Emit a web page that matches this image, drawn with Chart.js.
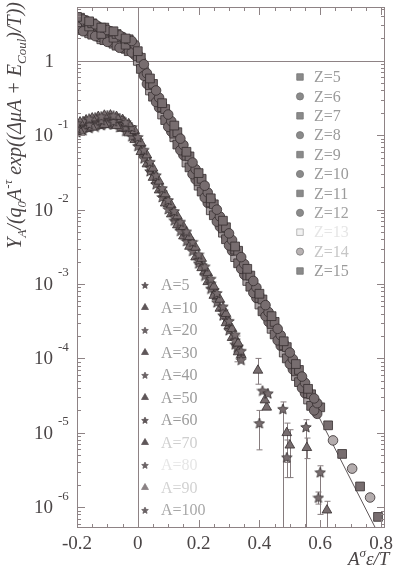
<!DOCTYPE html>
<html>
<head>
<meta charset="utf-8">
<script src="https://cdn.jsdelivr.net/npm/chart.js@4.4.0/dist/chart.umd.min.js"></script>
<style>
html, body { margin: 0; padding: 0; background: #fff; }
#wrap { width: 394px; height: 569px; }
</style>
</head>
<body>
<div id="wrap"><canvas id="chart" width="394" height="569"></canvas></div>
<script>
// ---- axis ticks ----
const xTickValues = [-0.2, 0, 0.2, 0.4, 0.6, 0.8];
const xTickLabels = ['-0.2', '0', '0.2', '0.4', '0.6', '0.8'];
const xMinorTicks = [-0.15, -0.1, -0.05, 0.05, 0.1, 0.15, 0.25, 0.3, 0.35, 0.45, 0.5, 0.55, 0.65, 0.7, 0.75];
const yTickValues = [1, 1e-1, 1e-2, 1e-3, 1e-4, 1e-5, 1e-6];
const yTickExps = ['', '-1', '-2', '-3', '-4', '-5', '-6'];

// ---- Z series (upper band) ----
const zX0 = [-0.2, -0.16, -0.12, -0.08, -0.04, 0, 0.04, 0.08, 0.12, 0.16, 0.2, 0.24, 0.28, 0.32, 0.36, 0.4, 0.44, 0.48, 0.52, 0.56];
const zX1 = [-0.19, -0.15, -0.11, -0.07, -0.03, 0.01, 0.05, 0.09, 0.13, 0.17, 0.21, 0.25, 0.29, 0.33, 0.37, 0.41, 0.45, 0.49, 0.53, 0.57];
const zX2 = [-0.18, -0.14, -0.1, -0.06, -0.02, 0.02, 0.06, 0.1, 0.14, 0.18, 0.22, 0.26, 0.3, 0.34, 0.38, 0.42, 0.46, 0.5, 0.54, 0.58];
const zX3 = [-0.17, -0.13, -0.09, -0.05, -0.01, 0.03, 0.07, 0.11, 0.15, 0.19, 0.23, 0.27, 0.31, 0.35, 0.39, 0.43, 0.47, 0.51, 0.55, 0.59];

const z5  = [3.9, 3.4, 2.8, 2.5, 2.0, 1.35, 0.58, 0.27, 0.135, 0.06, 0.031, 0.0142, 0.0071, 0.0032, 0.0016, 7.4e-4, 3.7e-4, 1.7e-4, 8.4e-5, 3.9e-5];
const z6  = [3.6, 3.1, 2.6, 2.2, 1.85, 0.9, 0.4, 0.19, 0.09, 0.043, 0.021, 0.01, 0.0048, 0.0023, 0.0011, 5.2e-4, 2.5e-4, 1.2e-4, 5.7e-5, 2.9e-5];
const z7  = [3.8, 3.2, 2.8, 2.3, 1.95, 1.1, 0.49, 0.225, 0.11, 0.052, 0.026, 0.0118, 0.0058, 0.0028, 0.0013, 6.2e-4, 3.1e-4, 1.42e-4, 7.0e-5, 3.3e-5];
const z8  = [3.5, 2.9, 2.5, 2.1, 1.65, 0.68, 0.32, 0.155, 0.074, 0.035, 0.017, 0.0081, 0.0039, 0.00186, 9.0e-4, 4.2e-4, 2.05e-4, 9.8e-5, 4.7e-5, 2.5e-5];
const z9  = [3.3, 2.9, 2.3, 2.05, 1.65, 1.15, 0.47, 0.24, 0.105, 0.053, 0.024, 0.0125, 0.0056, 0.0029, 0.0013, 6.5e-4, 2.9e-4, 1.5e-4, 6.7e-5, 3.4e-5];
const z10 = [2.5, 2.15, 1.8, 1.5, 1.3, 0.63, 0.28, 0.13, 0.063, 0.03, 0.0145, 0.0069, 0.0033, 0.0016, 7.6e-4, 3.7e-4, 1.75e-4, 8.4e-5, 4.0e-5, 2.0e-5];
const z11 = [2.6, 2.25, 1.9, 1.6, 1.35, 0.78, 0.33, 0.16, 0.075, 0.037, 0.0175, 0.0084, 0.004, 0.0019, 9.2e-4, 4.3e-4, 2.1e-4, 1.0e-4, 4.8e-5, 2.3e-5];
const z12 = [2.5, 2.1, 1.78, 1.5, 1.2, 0.49, 0.235, 0.112, 0.054, 0.0255, 0.0123, 0.0059, 0.0028, 0.00134, 6.5e-4, 3.1e-4, 1.48e-4, 7.1e-5, 3.4e-5, 1.8e-5];
const z13 = [2.7, 2.35, 1.95, 1.7, 1.45, 1.0, 0.4, 0.19, 0.094, 0.043, 0.021, 0.0098, 0.0049, 0.0023, 0.0011, 5.3e-4, 2.5e-4, 1.2e-4, 5.8e-5, 2.8e-5];
const z14 = [3.0, 2.6, 2.2, 1.8, 1.55, 0.78, 0.32, 0.16, 0.077, 0.035, 0.0178, 0.0082, 0.0041, 0.0019, 9.0e-4, 4.5e-4, 2.1e-4, 1.0e-4, 4.9e-5, 2.4e-5];
const z15 = [3.1, 2.7, 2.3, 1.95, 1.6, 0.95, 0.39, 0.19, 0.093, 0.043, 0.021, 0.0102, 0.0047, 0.0023, 0.0011, 5.3e-4, 2.5e-4, 1.2e-4, 5.7e-5, 2.8e-5];

// tail of the upper band, beyond the dense part
const zTailLabel = ['Z=15', 'Z=15', 'Z=14', 'Z=15', 'Z=14', 'Z=15', 'Z=14', 'Z=15'];
const zTailX = [0.6, 0.626, 0.642, 0.672, 0.705, 0.731, 0.764, 0.79];
const zTailY = [2.2e-5, 1.26e-5, 7.9e-6, 5.2e-6, 3.3e-6, 1.9e-6, 1.35e-6, 7.4e-7];

const zLabels = ['Z=5', 'Z=6', 'Z=7', 'Z=8', 'Z=9', 'Z=10', 'Z=11', 'Z=12', 'Z=13', 'Z=14', 'Z=15'];
const zXs = [zX0, zX2, zX1, zX3, zX0, zX2, zX1, zX3, zX0, zX2, zX1];
const zYs = [z5, z6, z7, z8, z9, z10, z11, z12, z13, z14, z15];

// ---- A series (lower band) ----
const aX0 = [-0.2, -0.16, -0.12, -0.08, -0.04, 0, 0.04, 0.08, 0.12, 0.16, 0.2, 0.24, 0.28, 0.32];
const aX1 = [-0.19, -0.15, -0.11, -0.07, -0.03, 0.01, 0.05, 0.09, 0.13, 0.17, 0.21, 0.25, 0.29, 0.33];
const aX2 = [-0.18, -0.14, -0.1, -0.06, -0.02, 0.02, 0.06, 0.1, 0.14, 0.18, 0.22, 0.26, 0.3, 0.34];
const aX3 = [-0.17, -0.13, -0.09, -0.05, -0.01, 0.03, 0.07, 0.11, 0.15, 0.19, 0.23, 0.27, 0.31];

const a5   = [0.145, 0.168, 0.18, 0.185, 0.15, 0.095, 0.044, 0.0195, 0.0096, 0.0051, 0.0025, 0.00118, 5.0e-4, 2.1e-4];
const a10  = [0.15, 0.17, 0.185, 0.178, 0.142, 0.079, 0.036, 0.0162, 0.0082, 0.0043, 0.0022, 9.3e-4, 4.0e-4, 1.6e-4];
const a20  = [0.155, 0.174, 0.186, 0.17, 0.129, 0.064, 0.029, 0.0135, 0.0069, 0.0037, 0.00173, 7.6e-4, 3.2e-4, 1.27e-4];
const a30  = [0.16, 0.178, 0.186, 0.162, 0.115, 0.054, 0.024, 0.0115, 0.0059, 0.0031, 0.00141, 6.2e-4, 2.5e-4];
const a40  = [0.125, 0.142, 0.16, 0.155, 0.13, 0.085, 0.037, 0.0172, 0.0081, 0.0045, 0.0021, 0.00102, 4.3e-4, 1.75e-4];
const a50  = [0.113, 0.128, 0.139, 0.134, 0.107, 0.06, 0.027, 0.0122, 0.0062, 0.0032, 0.00165, 7.0e-4, 3.0e-4, 1.22e-4];
const a60  = [0.117, 0.131, 0.141, 0.129, 0.097, 0.049, 0.022, 0.0102, 0.0052, 0.0028, 0.0013, 5.7e-4, 2.4e-4, 9.6e-5];
const a70  = [0.122, 0.135, 0.141, 0.123, 0.087, 0.041, 0.0183, 0.0087, 0.0044, 0.0023, 0.00107, 4.7e-4, 1.9e-4];
const a80  = [0.11, 0.126, 0.137, 0.14, 0.115, 0.072, 0.033, 0.0148, 0.0072, 0.0038, 0.0019, 8.7e-4, 3.8e-4, 1.55e-4];
const a90  = [0.133, 0.153, 0.16, 0.15, 0.11, 0.057, 0.0245, 0.0119, 0.0059, 0.0033, 0.00148, 6.7e-4, 2.75e-4, 1.12e-4];
const a100 = [0.128, 0.15, 0.158, 0.157, 0.125, 0.07, 0.03, 0.0142, 0.007, 0.0038, 0.0018, 8.3e-4, 3.4e-4, 1.45e-4];

// scattered tail points of the lower band, with error bars (null = none)
const aTailLabel = ['A=60', 'A=50', 'A=40', 'A=30', 'A=20', 'A=70', 'A=60', 'A=80', 'A=90', 'A=70', 'A=100', 'A=100', 'A=90', 'A=80', 'A=100', 'A=90'];
const aTailX  = [0.327, 0.395, 0.41, 0.418, 0.428, 0.424, 0.40, 0.477, 0.49, 0.5, 0.49, 0.553, 0.556, 0.60, 0.594, 0.622];
const aTailY  = [1.4e-4, 6.9e-5, 3.7e-5, 2.75e-5, 3.4e-5, 2.2e-5, 1.35e-5, 2.1e-5, 1.0e-5, 6.8e-6, 4.7e-6, 1.2e-5, 6.3e-6, 2.95e-6, 1.35e-6, 9.1e-7];
const aTailLo = [9e-5, 4.5e-5, null, null, null, null, 5.9e-6, 1e-9, 4e-6, 2.5e-6, 2.5e-6, 1e-9, 4.5e-6, 8e-7, 1.1e-6, 5e-7];
const aTailHi = [2.0e-4, 1.0e-4, null, null, null, null, 2.0e-5, 2.6e-5, 1.35e-5, 1.1e-5, 8e-6, 1.5e-5, 8.5e-6, 3.6e-6, 1.6e-6, 1.2e-6];

const aLabels = ['A=5', 'A=10', 'A=20', 'A=30', 'A=40', 'A=50', 'A=60', 'A=70', 'A=80', 'A=90', 'A=100'];
const aXs = [aX0, aX1, aX2, aX3, aX0, aX1, aX2, aX3, aX0, aX2, aX1];
const aYs = [a5, a10, a20, a30, a40, a50, a60, a70, a80, a90, a100];

// straight reference line
const fitX = [0, 0.78];
const fitY = [1.0, 5.4e-7];

// ---- styles ----
const SERIF = '"Liberation Serif", "DejaVu Serif", serif';
const AXIS = '#8e8385';
const TEXT = '#4a4546';
const BAND = '#776d6f';
const EDGE = '#352d2f';

const zFill = [BAND, BAND, BAND, BAND, BAND, BAND, BAND, BAND, '#aaa2a4', '#b3acad', BAND];
const zText = ['#9a9a9a', '#9a9a9a', '#9a9a9a', '#9a9a9a', '#9a9a9a', '#9a9a9a', '#9a9a9a', '#a2a2a2', '#e6e6e6', '#c6c6c6', '#9a9a9a'];
const aText = ['#9c9c9c', '#9c9c9c', '#9c9c9c', '#9c9c9c', '#9c9c9c', '#9c9c9c', '#9c9c9c', '#cfcfcf', '#e6e6e6', '#d2d2d2', '#a8a8a8'];
const aMark = ['#5e5658', '#5e5658', '#6a6264', '#5e5658', '#6a6264', '#5e5658', '#5e5658', '#5e5658', '#6a6264', '#8a8284', '#6a6264'];

function makeStar(size, fill, stroke) {
    const c = document.createElement('canvas');
    c.width = size;
    c.height = size;
    const g = c.getContext('2d');
    const R = size / 2 - 0.5, r = R * 0.45;
    g.beginPath();
    for (let i = 0; i < 10; i++) {
        const ang = -Math.PI / 2 + i * Math.PI / 5;
        const rr = i % 2 ? r : R;
        g.lineTo(size / 2 + rr * Math.cos(ang), size / 2 + 0.6 + rr * Math.sin(ang));
    }
    g.closePath();
    g.fillStyle = fill;
    g.fill();
    g.strokeStyle = stroke;
    g.lineWidth = 0.8;
    g.stroke();
    return c;
}

const dataStar = makeStar(12, BAND, EDGE);

function pts(xs, ys) {
    return xs.map((x, i) => ({ x: x, y: ys[i] }));
}

const datasets = [];

datasets.push({
    label: 'fit',
    data: pts(fitX, fitY),
    showLine: true,
    borderColor: '#5f5759',
    borderWidth: 1,
    pointRadius: 0,
    order: 100
});

zLabels.forEach((lab, i) => {
    const tx = [], ty = [];
    zTailLabel.forEach((l, j) => { if (l === lab) { tx.push(zTailX[j]); ty.push(zTailY[j]); } });
    const isRect = i % 2 === 0;
    datasets.push({
        label: lab,
        data: pts(zXs[i].concat(tx), zYs[i].concat(ty)),
        pointStyle: isRect ? 'rect' : 'circle',
        pointRadius: isRect ? 6.2 : 4.8,
        backgroundColor: zFill[i],
        borderColor: EDGE,
        borderWidth: 0.8
    });
});

aLabels.forEach((lab, i) => {
    const tx = [], ty = [], lo = [], hi = [];
    aTailLabel.forEach((l, j) => {
        if (l === lab) { tx.push(aTailX[j]); ty.push(aTailY[j]); lo.push(aTailLo[j]); hi.push(aTailHi[j]); }
    });
    const isStar = i % 2 === 0;
    const n = aXs[i].length;
    datasets.push({
        label: lab,
        data: pts(aXs[i].concat(tx), aYs[i].concat(ty)),
        pointStyle: isStar ? dataStar : 'triangle',
        pointRadius: 5.6,
        backgroundColor: BAND,
        borderColor: EDGE,
        borderWidth: 0.8,
        errLo: new Array(n).fill(null).concat(lo),
        errHi: new Array(n).fill(null).concat(hi)
    });
});

// ---- plugins ----
const errorBars = {
    id: 'errorBars',
    beforeDatasetsDraw(chart) {
        const { ctx, chartArea: a, scales: { x, y } } = chart;
        ctx.save();
        ctx.beginPath();
        ctx.rect(a.left, a.top, a.width, a.height);
        ctx.clip();
        // reference lines at y = 1 and x = 0
        ctx.strokeStyle = AXIS;
        ctx.lineWidth = 1;
        ctx.beginPath();
        const y1 = Math.round(y.getPixelForValue(1)) + 0.5;
        const x0 = Math.round(x.getPixelForValue(0)) + 0.5;
        ctx.moveTo(a.left, y1); ctx.lineTo(a.right, y1);
        ctx.moveTo(x0, a.top); ctx.lineTo(x0, a.bottom);
        ctx.stroke();
        // error bars
        ctx.strokeStyle = '#867c7e';
        ctx.beginPath();
        chart.data.datasets.forEach(ds => {
            if (!ds.errLo) return;
            ds.data.forEach((p, i) => {
                if (ds.errLo[i] == null) return;
                const px = Math.round(x.getPixelForValue(p.x)) + 0.5;
                const pLo = Math.min(y.getPixelForValue(ds.errLo[i]), a.bottom + 10);
                const pHi = y.getPixelForValue(ds.errHi[i]);
                ctx.moveTo(px, pLo); ctx.lineTo(px, pHi);
                ctx.moveTo(px - 3, pHi); ctx.lineTo(px + 3, pHi);
                if (pLo < a.bottom) { ctx.moveTo(px - 3, pLo); ctx.lineTo(px + 3, pLo); }
            });
        });
        ctx.stroke();
        ctx.restore();
    }
};

function drawRich(ctx, segs, x0, y0) {
    let cx = x0;
    segs.forEach(s => {
        ctx.font = s.f;
        ctx.fillText(s.t, cx, y0 + (s.dy || 0));
        cx += ctx.measureText(s.t).width;
    });
}

function richWidth(ctx, segs) {
    let w = 0;
    segs.forEach(s => { ctx.font = s.f; w += ctx.measureText(s.t).width; });
    return w;
}

const frame = {
    id: 'frame',
    afterDatasetsDraw(chart) {
        const { ctx, chartArea: a, scales: { x, y } } = chart;
        ctx.save();
        ctx.strokeStyle = AXIS;
        ctx.lineWidth = 1;
        ctx.beginPath();
        xMinorTicks.forEach(v => {
            const px = Math.round(x.getPixelForValue(v)) + 0.5;
            ctx.moveTo(px, a.bottom); ctx.lineTo(px, a.bottom - 4);
            ctx.moveTo(px, a.top); ctx.lineTo(px, a.top + 4);
        });
        xTickValues.forEach(v => {
            const px = Math.round(x.getPixelForValue(v)) + 0.5;
            ctx.moveTo(px, a.bottom); ctx.lineTo(px, a.bottom - 8);
            ctx.moveTo(px, a.top); ctx.lineTo(px, a.top + 8);
        });
        for (let e = -7; e <= 0; e++) {
            for (let k = 2; k <= 9; k++) {
                const v = k * Math.pow(10, e);
                if (v < y.min || v > y.max) continue;
                const py = Math.round(y.getPixelForValue(v)) + 0.5;
                ctx.moveTo(a.left, py); ctx.lineTo(a.left + 4, py);
                ctx.moveTo(a.right, py); ctx.lineTo(a.right - 4, py);
            }
        }
        yTickValues.forEach(v => {
            const py = Math.round(y.getPixelForValue(v)) + 0.5;
            ctx.moveTo(a.left, py); ctx.lineTo(a.left + 8, py);
            ctx.moveTo(a.right, py); ctx.lineTo(a.right - 8, py);
        });
        ctx.stroke();
        ctx.strokeRect(a.left + 0.5, a.top + 0.5, a.width - 1, a.height - 1);

        // tick labels
        ctx.fillStyle = TEXT;
        ctx.font = '19px ' + SERIF;
        ctx.textAlign = 'center';
        ctx.textBaseline = 'alphabetic';
        xTickValues.forEach((v, i) => {
            ctx.fillText(xTickLabels[i], x.getPixelForValue(v), 549);
        });
        ctx.textBaseline = 'middle';
        yTickValues.forEach((v, i) => {
            const py = y.getPixelForValue(v);
            ctx.textAlign = 'right';
            ctx.font = '19px ' + SERIF;
            if (yTickExps[i] === '') {
                ctx.fillText('1', 54, py + 1);
            } else {
                ctx.fillText('10', 53, py + 1);
                ctx.textAlign = 'left';
                ctx.font = '13px ' + SERIF;
                ctx.fillText(yTickExps[i], 58, py - 11);
            }
        });

        // axis titles
        ctx.textAlign = 'left';
        ctx.textBaseline = 'alphabetic';
        const it = 'italic 19px ' + SERIF, sm = 'italic 13px ' + SERIF;
        drawRich(ctx, [
            { t: 'A', f: it }, { t: 'σ', f: sm, dy: -8 }, { t: 'ε/T', f: it }
        ], 348, 565);

        const big = 'italic 20px ' + SERIF, sub = 'italic 13px ' + SERIF;
        const ySegs = [
            { t: 'Y', f: big }, { t: 'A', f: sub, dy: 5 }, { t: '/(', f: big },
            { t: 'q', f: big }, { t: '0', f: sub, dy: 5 }, { t: 'A', f: big },
            { t: '-τ', f: sub, dy: -9 }, { t: ' exp((ΔμA + E', f: big },
            { t: 'Coul', f: sub, dy: 5 }, { t: ')/T))', f: big }
        ];
        const w = richWidth(ctx, ySegs);
        ctx.save();
        ctx.translate(21, 2 + w);
        ctx.rotate(-Math.PI / 2);
        drawRich(ctx, ySegs, 0, 0);
        ctx.restore();

        // legends
        const H = Chart.helpers;
        ctx.textBaseline = 'middle';
        ctx.font = '16px ' + SERIF;
        zLabels.forEach((lab, i) => {
            const ly = 77 + i * 19.4;
            ctx.fillStyle = i === 8 ? '#f2f2f2' : (i === 9 ? '#b8b2b3' : '#8a8a8a');
            ctx.strokeStyle = i === 8 ? '#a9a9a9' : '#777';
            ctx.lineWidth = 0.8;
            H.drawPoint(ctx, { pointStyle: i % 2 === 0 ? 'rect' : 'circle', radius: i % 2 === 0 ? 4.6 : 3.6, borderWidth: 0.8, rotation: 0 }, 300, ly);
            ctx.fillStyle = zText[i];
            ctx.font = '16px ' + SERIF;
            ctx.textAlign = 'left';
            ctx.fillText(lab, 314, ly + 1);
        });
        aLabels.forEach((lab, i) => {
            const ly = 285 + i * 22.5;
            if (i % 2 === 0) {
                H.drawPoint(ctx, { pointStyle: makeStar(8, aMark[i], aMark[i]), radius: 4, rotation: 0 }, 145, ly);
            } else {
                ctx.fillStyle = aMark[i];
                ctx.strokeStyle = aMark[i];
                ctx.lineWidth = 0.8;
                H.drawPoint(ctx, { pointStyle: 'triangle', radius: 4, borderWidth: 0.8, rotation: 0 }, 145, ly);
            }
            ctx.fillStyle = aText[i];
            ctx.font = '16px ' + SERIF;
            ctx.textAlign = 'left';
            ctx.fillText(lab, 161, ly + 1);
        });
        ctx.restore();
    }
};

new Chart(document.getElementById('chart'), {
    type: 'scatter',
    data: { datasets: datasets },
    options: {
        responsive: false,
        animation: false,
        events: [],
        layout: { padding: { left: 77, top: 6, right: 9, bottom: 41 } },
        scales: {
            x: { type: 'linear', min: -0.2, max: 0.813, display: false },
            y: { type: 'logarithmic', min: 5.25e-7, max: 5.3, display: false }
        },
        plugins: {
            legend: { display: false },
            tooltip: { enabled: false }
        }
    },
    plugins: [errorBars, frame]
});
</script>
</body>
</html>
